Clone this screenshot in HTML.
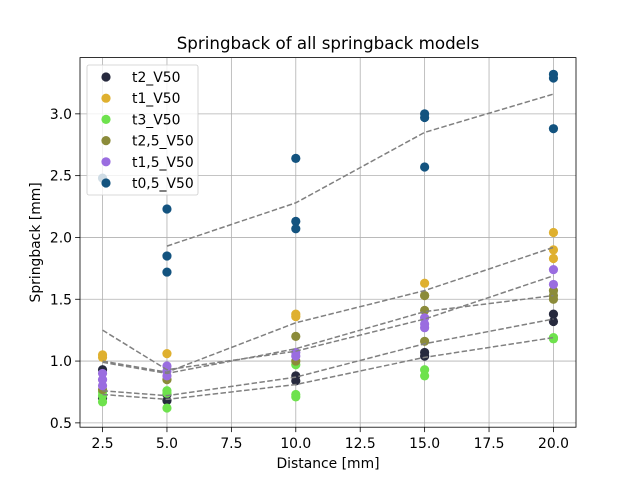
<!DOCTYPE html>
<html><head><meta charset="utf-8"><style>
body{margin:0;background:#fff;font-family:"Liberation Sans","DejaVu Sans",sans-serif}
svg text{font-family:"DejaVu Sans","Liberation Sans",sans-serif}
</style></head><body>
<svg id="c" width="640" height="480" xmlns="http://www.w3.org/2000/svg"></svg>
<script>
const distances=[2.5,5,10,15,20];
const seriesNames=["t2_V50","t1_V50","t3_V50","t2,5_V50","t1,5_V50","t0,5_V50"];
const seriesColors=["#272a3e","#dfb02f","#6ee24d","#8b8b3a","#9a6de0","#13537f"];
const t2Points=[[0.93,0.70],[0.68,0.73],[0.88,0.84],[1.07,1.04],[1.38,1.32]];
const t1Points=[[1.05,1.03],[1.06],[1.38,1.36],[1.63,1.53],[2.04,1.90,1.83]];
const t3Points=[[0.67,0.72,0.75],[0.62,0.76,0.74],[0.71,0.73,0.97],[0.88,0.93],[1.18,1.19]];
const t25Points=[[0.77],[0.85],[1.20,1.00],[1.53,1.41,1.16],[1.57,1.53,1.50]];
const t15Points=[[0.80,0.85,0.90],[0.88,0.92,0.96],[1.07,1.04],[1.35,1.30,1.27],[1.74,1.62]];
const t05Points=[[2.48],[2.23,1.85,1.72],[2.64,2.13,2.07],[3.00,2.97,2.57],[3.32,3.29,2.88]];
const t2Fit=[0.76,0.72,0.87,1.14,1.34];
const t1Fit=[1.00,0.91,1.31,1.57,1.92];
const t3Fit=[0.73,0.69,0.81,1.03,1.19];
const t25Fit=[0.99,0.90,1.10,1.40,1.53];
const t15Fit=[1.25,0.93,1.08,1.34,1.69];
const t05Fit=[null,1.93,2.28,2.85,3.16];
const xTicks=[2.5,5.0,7.5,10.0,12.5,15.0,17.5,20.0];
const yTicks=[0.5,1.0,1.5,2.0,2.5,3.0];

const allPoints=[t2Points,t1Points,t3Points,t25Points,t15Points,t05Points];
const allFits=[t2Fit,t1Fit,t3Fit,t25Fit,t15Fit,t05Fit];
const L=80,R=576,T=57.6,B=427.2;
const xMin=1.625,xMax=20.875,yMin=0.465,yMax=3.455;
const X=v=>L+(v-xMin)/(xMax-xMin)*(R-L);
const Y=v=>B-(v-yMin)/(yMax-yMin)*(B-T);
const svg=document.getElementById('c');
const NS="http://www.w3.org/2000/svg";
function mk(tag,attrs,parent){const e=document.createElementNS(NS,tag);for(const k in attrs)e.setAttribute(k,attrs[k]);(parent||svg).appendChild(e);return e;}

const grid=mk('g',{});


xTicks.forEach(t=>{
  mk('line',{x1:X(t),x2:X(t),y1:T,y2:B,stroke:'#b0b0b0','stroke-width':0.8},grid);
  mk('line',{x1:X(t),x2:X(t),y1:B,y2:B+4.9,stroke:'#000','stroke-width':0.8},grid);
  const tx=mk('text',{x:X(t),y:B+21,'font-size':13.9,'text-anchor':'middle'},grid);
  tx.textContent=t.toFixed(1);
  
  
});
yTicks.forEach(t=>{
  mk('line',{x1:L,x2:R,y1:Y(t),y2:Y(t),stroke:'#b0b0b0','stroke-width':0.8},grid);
  mk('line',{x1:L-4.9,x2:L,y1:Y(t),y2:Y(t),stroke:'#000','stroke-width':0.8},grid);
  const tx=mk('text',{x:L-8,y:Y(t)+5,'font-size':13.9,'text-anchor':'end'},grid);
  tx.textContent=t.toFixed(1);
  
  
});

allPoints.forEach((pts,si)=>{
  const g=mk('g',{fill:seriesColors[si]});
  
  
  pts.forEach((vals,di)=>vals.forEach(v=>{
    const c=mk('circle',{cx:X(distances[di]),cy:Y(v),r:4.6},g);
    
    
  }));
});
allFits.forEach((f,si)=>{
  let d='';f.forEach((v,i)=>{if(v==null)return;d+=(d?'L':'M')+X(distances[i])+','+Y(v);});
  const p=mk('path',{d:d,fill:'none',stroke:'#808080','stroke-width':1.5,'stroke-dasharray':'5.5,2.4'});
  
  
});

const frame=mk('rect',{x:L,y:T,width:R-L,height:B-T,fill:'none',stroke:'#000','stroke-width':0.8});



const title=mk('text',{x:(L+R)/2,y:49,'font-size':16.7,'text-anchor':'middle'});
title.textContent='Springback of all springback models';


const xl=mk('text',{x:(L+R)/2,y:468,'font-size':13.9,'text-anchor':'middle'});
xl.textContent='Distance [mm]';


const yl=mk('text',{x:0,y:0,'font-size':13.9,'text-anchor':'middle',transform:'translate(40,'+((T+B)/2)+') rotate(-90)'});
yl.textContent='Springback [mm]';



const lg=mk('g',{});


mk('rect',{x:87,y:65,width:111,height:130,rx:2,fill:'#fff','fill-opacity':0.8,stroke:'#ccc','stroke-width':0.8},lg);
seriesNames.forEach((n,i)=>{
  const yy=77+i*21.2;
  const e=mk('g',{},lg);
  
  
  mk('circle',{cx:106,cy:yy,r:4.6,fill:seriesColors[i]},e);
  const t=mk('text',{x:132,y:yy+5,'font-size':13.9},e);
  t.textContent=n;
});
</script>
</body></html>
